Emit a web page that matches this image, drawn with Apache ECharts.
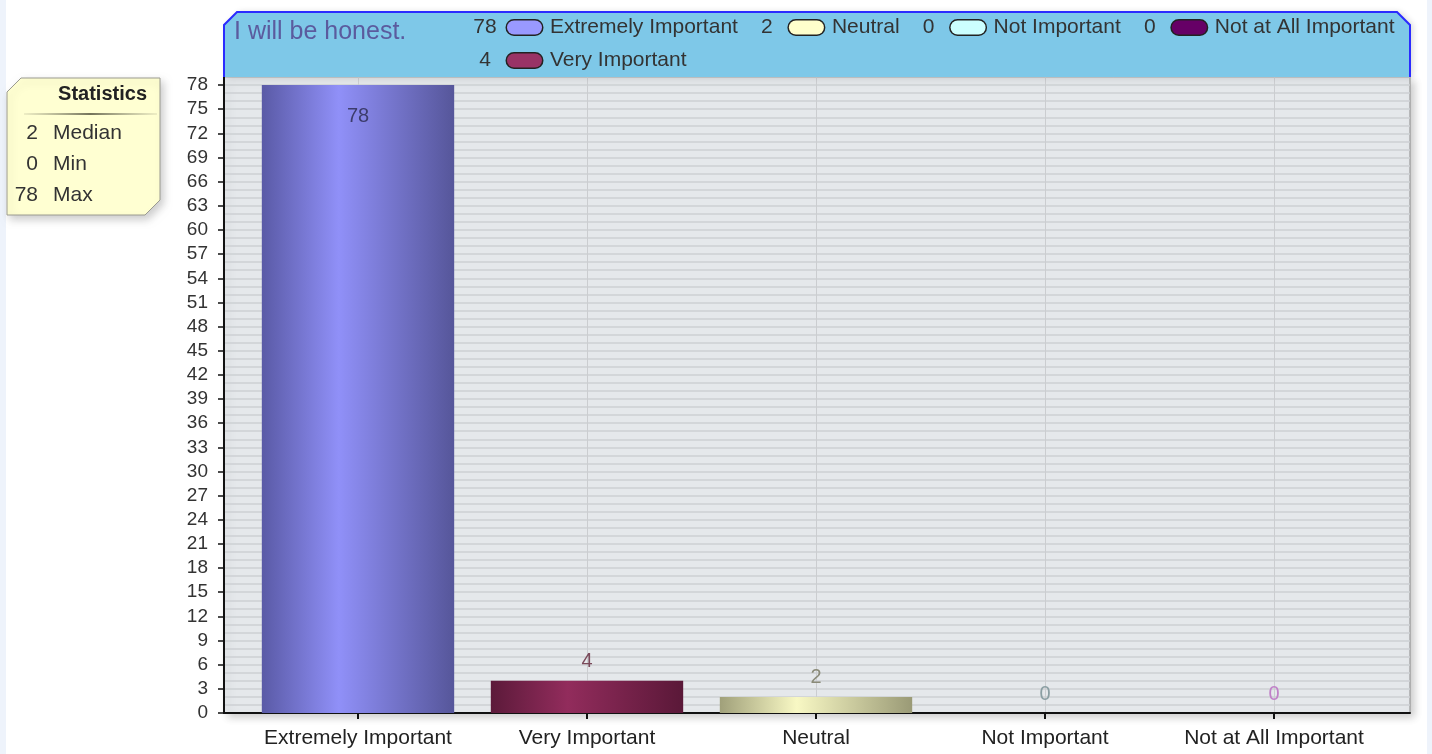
<!DOCTYPE html>
<html>
<head>
<meta charset="utf-8">
<script src="https://cdn.jsdelivr.net/npm/echarts@6/dist/echarts.min.js"></script>
<style>
    body{ margin:0; background:#fff; }
    #chart{ width:1432px; height:754px; }
</style>
</head>
<body>
<div id="chart"></div>
<script>
// data
var categories = ['Extremely Important', 'Very Important', 'Neutral', 'Not Important', 'Not at All Important'];
var values = [78, 4, 2, 0, 0];
var legendOrder = ['Extremely Important', 'Neutral', 'Not Important', 'Not at All Important', 'Very Important'];
var title = 'I will be honest.';
var yMax = 79;
var yInterval = 3;

// colours for each answer: [edge, highlight, edge2, legend, label]
var palette = [
    ['#5a5aa6', '#9090f8', '#56569a', '#9999ff', '#3c3c6c'],
    ['#5c1a3a', '#922c5c', '#5a1838', '#993366', '#7a4a5a'],
    ['#a0a07a', '#f8f8c4', '#9a9a76', '#ffffcc', '#8a8a78'],
    ['#90c8c8', '#ccffff', '#90c8c8', '#ccffff', '#8a9ea2'],
    ['#5a1a5a', '#8a3a8a', '#5a1a5a', '#660066', '#c080c8']
];

var font = '"Liberation Sans", Arial, sans-serif';
var fs = 21;

// statistics
var sorted = values.slice().sort(function (a, b) { return a - b; });
var stats = [
    [sorted[Math.floor(sorted.length / 2)], 'Median'],
    [sorted[0], 'Min'],
    [sorted[sorted.length - 1], 'Max']
];

var myChart = echarts.init(document.getElementById('chart'));

// legend rich styles (number, gap, swatch, gap, text)
var rich = {
    n: { width: 24, align: 'right', fontSize: fs, lineHeight: 20, color: '#333', fontFamily: font },
    g1: { width: 10, lineHeight: 20 },
    g2: { width: 8, lineHeight: 20 },
    t: { fontSize: fs, lineHeight: 20, color: '#333', fontFamily: font }
};
palette.forEach(function (p, i) {
    rich['ic' + i] = {
        width: 35, height: 14, lineHeight: 20, backgroundColor: p[3],
        borderColor: '#222', borderWidth: 1.5, borderRadius: 7
    };
});

var series = categories.map(function (name, i) {
    var p = palette[i];
    var data = categories.map(function (c, j) { return j === i ? values[i] : '-'; });
    var big = values[i] > yMax * 0.9;
    return {
        name: name,
        type: 'bar',
        stack: 'total',
        xAxisIndex: 1,
        yAxisIndex: 1,
        barWidth: '84%',
        data: data,
        itemStyle: {
            color: new echarts.graphic.LinearGradient(0, 0, 1, 0, [
                { offset: 0, color: p[0] },
                { offset: 0.4, color: p[1] },
                { offset: 1, color: p[2] }
            ])
        },
        label: {
            show: true,
            position: big ? 'insideTop' : 'top',
            distance: big ? 21 : 9,
            color: p[4],
            fontSize: fs - 1,
            fontFamily: font
        }
    };
});

var graphics = [
    // side strips
    { type: 'rect', shape: { x: 0, y: 0, width: 6, height: 754 }, style: { fill: '#eef3fb' }, z: 1 },
    { type: 'rect', shape: { x: 1427, y: 0, width: 5, height: 754 }, style: { fill: '#eef3fb' }, z: 1 },
    // header box
    {
        type: 'polygon', z: 1,
        shape: { points: [[224, 77], [224, 25], [237, 12], [1397, 12], [1410, 25], [1410, 77]] },
        style: { fill: '#7ec8e8', shadowBlur: 6, shadowColor: 'rgba(0,0,0,0.15)', shadowOffsetX: 3 }
    },
    {
        type: 'polyline', z: 2,
        shape: { points: [[224, 77], [224, 25], [237, 12], [1397, 12], [1410, 25], [1410, 77]] },
        style: { stroke: '#2b2bff', lineWidth: 2, fill: null }
    },
    {
        type: 'text', z: 3, x: 234, y: 32,
        style: { text: title, fontSize: 25, fill: '#5b5b9e', fontFamily: font, verticalAlign: 'middle' }
    },
    // statistics box
    {
        type: 'polygon', z: 3,
        shape: { points: [[7, 92], [21, 78], [160, 78], [160, 200], [145, 215], [7, 215]] },
        style: {
            fill: '#ffffd2', stroke: '#9a9a90', lineWidth: 1,
            shadowBlur: 8, shadowColor: 'rgba(0,0,0,0.2)', shadowOffsetX: 3, shadowOffsetY: 4
        }
    },
    {
        type: 'text', z: 4, x: 147, y: 94,
        style: { text: 'Statistics', fontSize: 20, fontWeight: 'bold', fill: '#222', fontFamily: font, align: 'right', verticalAlign: 'middle' }
    },
    {
        type: 'line', z: 4,
        shape: { x1: 24, y1: 114, x2: 157, y2: 114 },
        style: {
            lineWidth: 2,
            stroke: new echarts.graphic.LinearGradient(0, 0, 1, 0, [
                { offset: 0, color: 'rgba(120,120,100,0.1)' },
                { offset: 0.5, color: 'rgba(80,80,60,0.8)' },
                { offset: 1, color: 'rgba(120,120,100,0.1)' }
            ])
        }
    }
];
stats.forEach(function (s, i) {
    var y = 133 + i * 31;
    graphics.push({
        type: 'text', z: 4, x: 38, y: y,
        style: { text: String(s[0]), fontSize: fs, fill: '#333', fontFamily: font, align: 'right', verticalAlign: 'middle' }
    });
    graphics.push({
        type: 'text', z: 4, x: 53, y: y,
        style: { text: s[1], fontSize: fs, fill: '#333', fontFamily: font, align: 'left', verticalAlign: 'middle' }
    });
});

var option = {
    backgroundColor: '#ffffff',
    animation: false,
    textStyle: { fontFamily: font },
    legend: {
        orient: 'horizontal',
        left: 468,
        top: 17,
        width: 935,
        padding: 0,
        itemGap: 12,
        itemWidth: 0,
        itemHeight: 0,
        icon: 'rect',
        data: legendOrder,
        selectedMode: false,
        formatter: function (name) {
            var i = categories.indexOf(name);
            return '{n|' + values[i] + '}{g1|\u00a0}{ic' + i + '|\u00a0}{g2|\u00a0}{t|' + name + '}';
        },
        textStyle: { rich: rich }
    },
    grid: [
        {
            left: 224, right: 22, top: 77, bottom: 41,
            show: true,
            backgroundColor: '#e5e8eb',
            borderColor: '#8a8a8a',
            borderWidth: 1,
            shadowBlur: 8,
            shadowColor: 'rgba(0,0,0,0.2)',
            shadowOffsetX: 4,
            shadowOffsetY: 4
        },
        { left: 243.5, right: 43.5, top: 77, bottom: 41 }
    ],
    xAxis: [
        {
            gridIndex: 0, type: 'value', min: 0, max: 1,
            axisLine: { show: true, lineStyle: { color: '#111', width: 2 } },
            axisTick: { show: false },
            axisLabel: { show: false },
            splitLine: { show: false }
        },
        {
            gridIndex: 1, type: 'category', data: categories,
            axisLine: { show: false },
            axisTick: { show: true, alignWithLabel: true, length: 6, lineStyle: { color: '#111', width: 2 } },
            axisLabel: { interval: 0, margin: 15, fontSize: fs, color: '#222', fontFamily: font },
            splitLine: { show: true, alignWithLabel: true, lineStyle: { color: '#cbcdd0', width: 1 } }
        }
    ],
    yAxis: [
        {
            gridIndex: 0, type: 'value', min: 0, max: yMax, interval: yInterval,
            axisLine: { show: true, lineStyle: { color: '#111', width: 2 } },
            axisTick: { show: true, length: 6, lineStyle: { color: '#111', width: 1.5 } },
            axisLabel: { showMaxLabel: false, margin: 16, fontSize: 19, color: '#333', fontFamily: font },
            splitLine: { show: true, lineStyle: { color: '#cdd0d3', width: 1.5 } },
            minorTick: { show: false, splitNumber: 3 },
            minorSplitLine: { show: true, lineStyle: { color: '#cdd0d3', width: 1.5 } }
        },
        {
            gridIndex: 1, type: 'value', min: 0, max: yMax, interval: yInterval,
            show: false,
            splitLine: { show: false }
        }
    ],
    graphic: graphics,
    series: series
};
myChart.setOption(option);
</script>
</body>
</html>
